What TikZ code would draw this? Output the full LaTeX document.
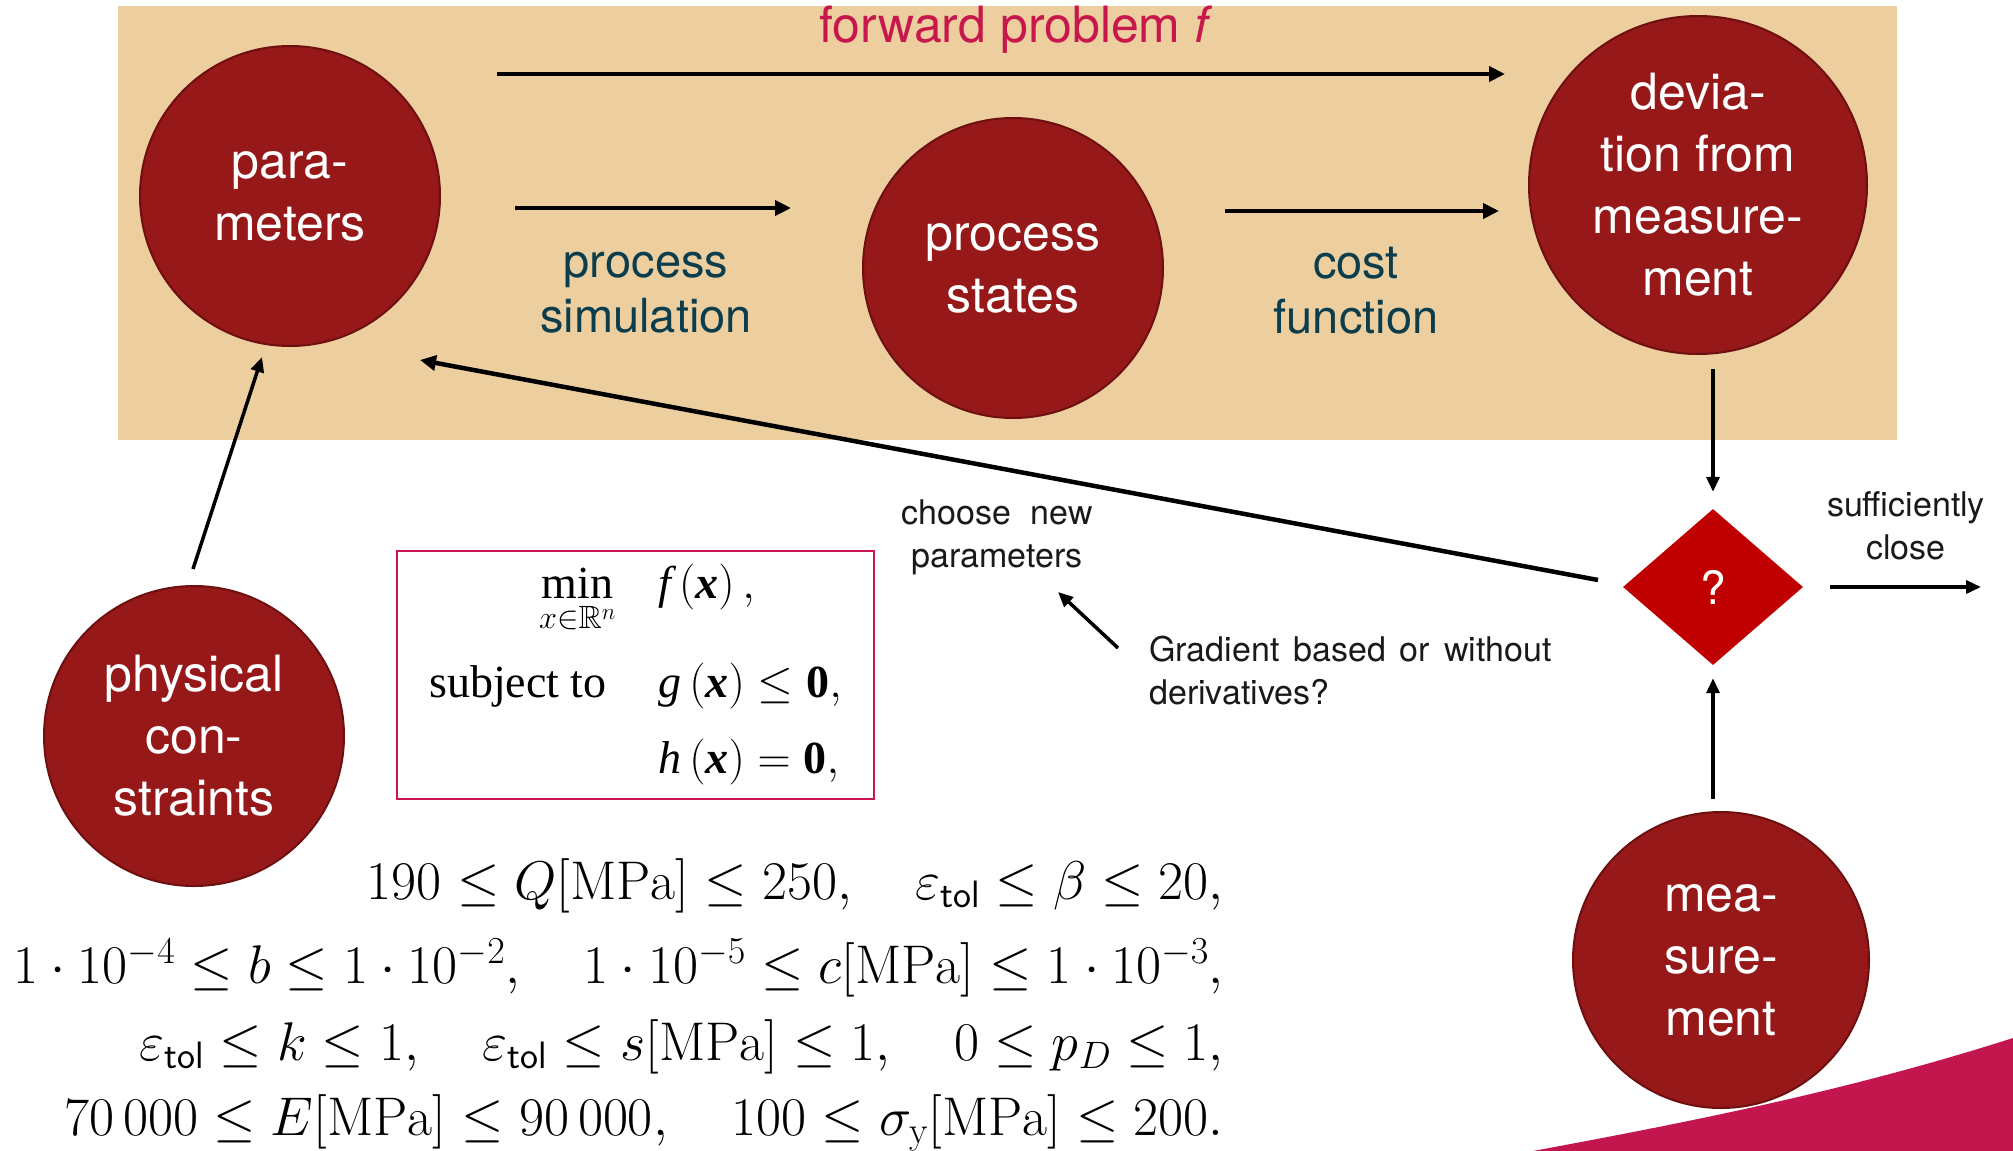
\RequirePackage{fix-cm}
\documentclass[tikz,border=0pt]{standalone}
\usepackage{amsmath,amssymb}
\usepackage{fontspec}
\newfontfamily\labelfont{TeX Gyre Heros}
\newfontfamily\boxfont{Liberation Serif}
\usetikzlibrary{arrows.meta,shapes.geometric}

\definecolor{beige}{HTML}{ECCE9F}
\definecolor{circfill}{HTML}{961818}
\definecolor{circedge}{HTML}{6E1010}
\definecolor{diamondred}{HTML}{C00000}
\definecolor{crimson}{HTML}{C8174C}
\definecolor{tealtext}{HTML}{0B3D4C}
\definecolor{wedge}{HTML}{C4164E}

% serif pieces of the optimisation problem
\newcommand{\bxt}[1]{\text{\boxfont #1}}
\newcommand{\bxi}[1]{\text{\boxfont\itshape #1}}
\newcommand{\bxv}{\text{\boxfont\bfseries\itshape x}}
% slightly widened word gap for the small notes
\newcommand{\wsp}{\hspace{4.5pt} }

\tikzset{
  blob/.style={circle, fill=circfill, draw=circedge, line width=2pt,
    text=white, font=\labelfont\fontsize{50}{62}\selectfont,
    align=center, inner sep=0pt, minimum size=300pt},
  flowarrow/.style={-{Triangle[length=16pt,width=15pt]}, line width=4.5pt},
  sidearrow/.style={-{Triangle[length=15pt,width=13pt]}, line width=3.5pt},
  steplabel/.style={text=tealtext, font=\labelfont\fontsize{47}{55}\selectfont, align=center, inner sep=0pt},
  notelabel/.style={text=black!90, font=\labelfont\fontsize{34}{43}\selectfont, inner sep=0pt},
  bounds/.style={font=\fontsize{54.5}{64}\selectfont, anchor=base east, inner sep=0pt},
}

\begin{document}
\begin{tikzpicture}[x=1pt, y=-1pt]
\useasboundingbox (0,0) rectangle (2013,1151);

% forward-problem band and corner wedge
\fill[beige] (118,6) rectangle (1897,440);
\fill[wedge] (1533,1151) .. controls (1700,1120) and (1850,1090) .. (2013,1038)
  -- (2013,1151) -- cycle;

% stages
\node[blob] (params) at (290,196) {para-\\meters};
\node[blob] (states) at (1013,268) {process\\states};
\node[blob, minimum size=338pt] (dev) at (1698,185) {devia-\\tion from\\measure-\\ment};
\node[blob] (phys) at (194,736) {physical\\con-\\straints};
\node[blob, minimum size=296pt] (meas) at (1721,960) {mea-\\sure-\\ment};
\node[diamond, fill=diamondred, minimum width=180pt, minimum height=156pt,
  inner sep=0pt, text=white, font=\labelfont\fontsize{46}{50}\selectfont] (check) at (1713,587) {?};

% labels
\node[anchor=base, text=crimson, font=\labelfont\fontsize{50}{60}\selectfont, inner sep=0pt]
  (fwd) at (1016,42) {forward problem \textit{f}};
\node[steplabel] (simlbl) at (646,293) {process\\simulation};
\node[steplabel] (costlbl) at (1356,291) {cost\\function};
\node[notelabel, align=center] (choose) at (997,537) {choose\hspace{10pt} new\\parameters};
\node[notelabel, align=left, anchor=west] (grad) at (1149,671)
  {Gradient\wsp based\wsp or\wsp without\\derivatives?};
\node[notelabel, align=center] (close) at (1906,526) {sufficiently\\close};

% optimisation problem
\node[draw=crimson, line width=2.5pt, minimum width=477pt, minimum height=248pt, inner sep=0pt,
  font=\fontsize{46}{55}\selectfont] (optbox) at (635.5,675)
  {$\displaystyle\begin{array}{r@{\hspace{52pt}}l}
    \mathop{\bxt{min}}\limits_{x\in\mathbb{R}^n}\hspace{-9pt} & \bxi{f}\,(\bxv)\,, \\[44pt]
    \bxt{subject to} & \bxi{g}\,(\bxv) \leq \bxt{\bfseries 0}, \\[21pt]
     & \bxi{h}\,(\bxv) = \bxt{\bfseries 0},
  \end{array}$};

% parameter bounds
\node[bounds] (b1) at (1224,899)
  {$190 \leq Q[\mathrm{MPa}] \leq 250, \quad \varepsilon_{\mathsf{tol}} \leq \beta \leq 20,$};
\node[bounds] (b2) at (1224,983)
  {$1\cdot 10^{-4} \leq b \leq 1\cdot 10^{-2}, \quad 1\cdot 10^{-5} \leq c[\mathrm{MPa}] \leq 1\cdot 10^{-3},$};
\node[bounds] (b3) at (1224,1060)
  {$\varepsilon_{\mathsf{tol}} \leq k \leq 1, \quad \varepsilon_{\mathsf{tol}} \leq s[\mathrm{MPa}] \leq 1, \quad 0 \leq p_D \leq 1,$};
\node[bounds] (b4) at (1224,1135)
  {$70\,000 \leq E[\mathrm{MPa}] \leq 90\,000, \quad 100 \leq \sigma_{\mathrm{y}}[\mathrm{MPa}] \leq 200.$};

% connector ends
\coordinate (fwdS) at (497,74);
\coordinate (fwdE) at (1505,74);
\coordinate (simS) at (515,208);
\coordinate (simE) at (791,208);
\coordinate (costS) at (1225,211);
\coordinate (costE) at (1499,211);
\coordinate (backS) at (1598,580);
\coordinate (backE) at (420,360);
\coordinate (physS) at (193,569);
\coordinate (physE) at (262,357);
\coordinate (gradS) at (1118,648);
\coordinate (gradE) at (1058,592);
\coordinate (outE) at (1981,587);

% connectors
\draw[flowarrow] (fwdS) -- (fwdE);
\draw[flowarrow] (simS) -- (simE);
\draw[flowarrow] (costS) -- (costE);
\draw[sidearrow, shorten <=14pt, shorten >=17pt] (dev.south -| check.north) -- (check.north);
\draw[sidearrow, shorten <=12pt, shorten >=13pt] (meas.north -| check.south) -- (check.south);
\draw[sidearrow, shorten <=27pt] (check.east) -- (outE);
\draw[flowarrow] (backS) -- (backE);
\draw[sidearrow] (physS) -- (physE);
\draw[sidearrow] (gradS) -- (gradE);
\end{tikzpicture}
\end{document}
